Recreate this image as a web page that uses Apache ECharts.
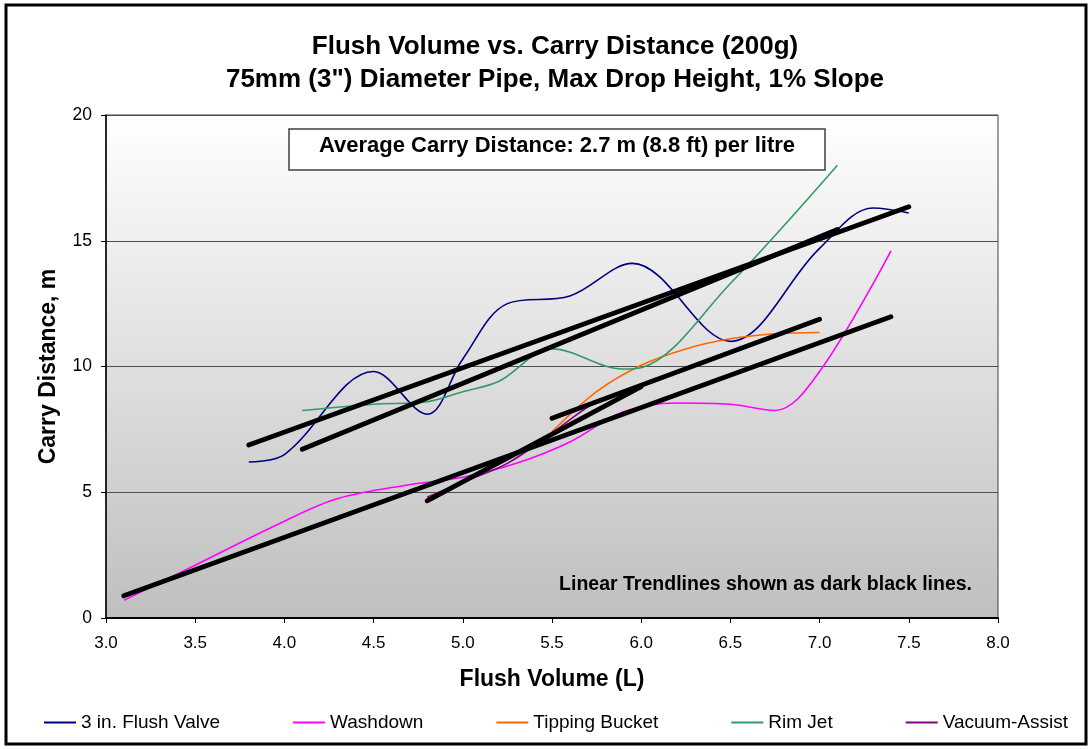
<!DOCTYPE html>
<html>
<head>
<meta charset="utf-8">
<script src="https://cdn.jsdelivr.net/npm/echarts@6/dist/echarts.min.js"></script>
<style>
  html, body { margin: 0; padding: 0; background: #fff; }
  #chart { width: 1092px; height: 749px; }
</style>
</head>
<body>
<div id="chart"></div>
<script>
// measured series, [flush volume L, carry distance m]
const flushValve = [[3.8, 6.2], [4.0, 6.5], [4.5, 9.8], [4.8, 8.1], [5.0, 10.3], [5.25, 12.5], [5.6, 12.8], [5.95, 14.1], [6.5, 11.0], [7.0, 14.7], [7.3, 16.3], [7.5, 16.1]]
const washdown = [[3.1, 0.7], [3.5, 2.1], [4.0, 3.85], [4.3, 4.75], [4.7, 5.3], [5.0, 5.6], [5.3, 6.15], [5.6, 7.0], [5.9, 8.2], [6.2, 8.55], [6.5, 8.5], [6.75, 8.25], [7.0, 9.8], [7.4, 14.6]]
const tippingBucket = [[5.5, 7.4], [5.75, 9.0], [6.0, 10.05], [6.25, 10.7], [6.5, 11.1], [6.75, 11.3], [7.0, 11.35]]
const rimJet = [[4.1, 8.25], [4.5, 8.5], [4.8, 8.6], [5.0, 9.0], [5.2, 9.4], [5.5, 10.7], [5.9, 9.9], [6.0, 9.95], [6.5, 13.3], [7.1, 18.0]]
const vacuumAssist = [[4.8, 4.8], [5.0, 5.4], [5.25, 6.15], [5.5, 7.35], [5.75, 8.6], [6.0, 9.2]]

// linear trendlines (end points)
const flushValveTrend = [[3.8, 6.88], [7.5, 16.35]]
const washdownTrend = [[3.1, 0.88], [7.4, 11.98]]
const tippingBucketTrend = [[5.5, 7.94], [7.0, 11.88]]
const rimJetTrend = [[4.1, 6.71], [7.1, 15.45]]
const vacuumAssistTrend = [[4.8, 4.66], [6.0, 9.2]]

const seriesNames = ['3 in. Flush Valve', 'Washdown', 'Tipping Bucket', 'Rim Jet', 'Vacuum-Assist']
const seriesColors = ['#000080', '#ff00ff', '#ff6600', '#339966', '#800080']
const seriesData = [flushValve, washdown, tippingBucket, rimJet, vacuumAssist]
const trendData = [flushValveTrend, washdownTrend, tippingBucketTrend, rimJetTrend, vacuumAssistTrend]

const font = 'Liberation Sans, Arial, sans-serif'

const chart = echarts.init(document.getElementById('chart'))

const series = seriesData.map((d, i) => ({
  name: seriesNames[i],
  type: 'line',
  data: d,
  smooth: 0.35,
  symbol: 'none',
  lineStyle: { color: seriesColors[i], width: 1.6 },
  itemStyle: { color: seriesColors[i] }
}))

trendData.forEach((d, i) => {
  series.push({
    name: 'trend ' + i,
    type: 'line',
    data: d,
    symbol: 'none',
    lineStyle: { color: '#000', width: 4.8, cap: 'round' },
    z: 5
  })
})

const option = {
  animation: false,
  backgroundColor: '#fff',
  grid: {
    left: 106, right: 94, top: 115, bottom: 131,
    show: true,
    borderColor: '#404040',
    borderWidth: 1,
    backgroundColor: new echarts.graphic.LinearGradient(0, 0, 0, 1, [
      { offset: 0, color: '#ffffff' },
      { offset: 1, color: '#bfbfbf' }
    ])
  },
  xAxis: {
    type: 'value',
    min: 3, max: 8, interval: 0.5,
    name: 'Flush Volume (L)',
    nameLocation: 'middle',
    nameGap: 50,
    nameTextStyle: { fontFamily: font, fontSize: 23, fontWeight: 'bold', color: '#000' },
    axisLine: { lineStyle: { color: '#000', width: 2 } },
    axisTick: { show: true, length: 5, lineStyle: { color: '#000' } },
    axisLabel: { margin: 17, fontFamily: font, fontSize: 17, color: '#000', formatter: v => v.toFixed(1) },
    splitLine: { show: false }
  },
  yAxis: {
    type: 'value',
    min: 0, max: 20, interval: 5,
    name: 'Carry Distance, m',
    nameLocation: 'middle',
    nameGap: 46,
    nameTextStyle: { fontFamily: font, fontSize: 23, fontWeight: 'bold', color: '#000' },
    axisLine: { show: true, lineStyle: { color: '#000', width: 1.5 } },
    axisTick: { show: true, length: 5, lineStyle: { color: '#000' } },
    axisLabel: { margin: 14, fontFamily: font, fontSize: 17.5, color: '#000' },
    splitLine: { lineStyle: { color: '#4d4d4d', width: 1 } }
  },
  legend: {
    data: seriesNames,
    left: 39,
    top: 708,
    icon: 'rect',
    itemWidth: 32,
    itemHeight: 2,
    itemGap: 73,
    textStyle: { fontFamily: font, fontSize: 19, color: '#000' }
  },
  graphic: [
    {
      type: 'rect',
      shape: { x: 6, y: 5, width: 1080, height: 739 },
      style: { fill: 'none', stroke: '#000', lineWidth: 3 },
      silent: true
    },
    {
      type: 'text',
      x: 555, y: 47,
      style: {
        text: 'Flush Volume vs. Carry Distance (200g)',
        font: 'bold 26px ' + font,
        fill: '#000', textAlign: 'center', textVerticalAlign: 'middle'
      }
    },
    {
      type: 'text',
      x: 555, y: 80,
      style: {
        text: '75mm (3") Diameter Pipe, Max Drop Height, 1% Slope',
        font: 'bold 26px ' + font,
        fill: '#000', textAlign: 'center', textVerticalAlign: 'middle'
      }
    },
    {
      type: 'rect',
      shape: { x: 289, y: 129, width: 536, height: 41 },
      style: { fill: '#fff', stroke: '#404040', lineWidth: 1.5 },
      z: 10
    },
    {
      type: 'text',
      x: 557, y: 146,
      style: {
        text: 'Average Carry Distance: 2.7 m (8.8 ft) per litre',
        font: 'bold 22px ' + font,
        fill: '#000', textAlign: 'center', textVerticalAlign: 'middle'
      },
      z: 11
    },
    {
      type: 'text',
      x: 972, y: 585,
      style: {
        text: 'Linear Trendlines shown as dark black lines.',
        font: 'bold 19.5px ' + font,
        fill: '#000', textAlign: 'right', textVerticalAlign: 'middle'
      },
      z: 11
    }
  ],
  series: series
}

chart.setOption(option)
</script>
</body>
</html>
